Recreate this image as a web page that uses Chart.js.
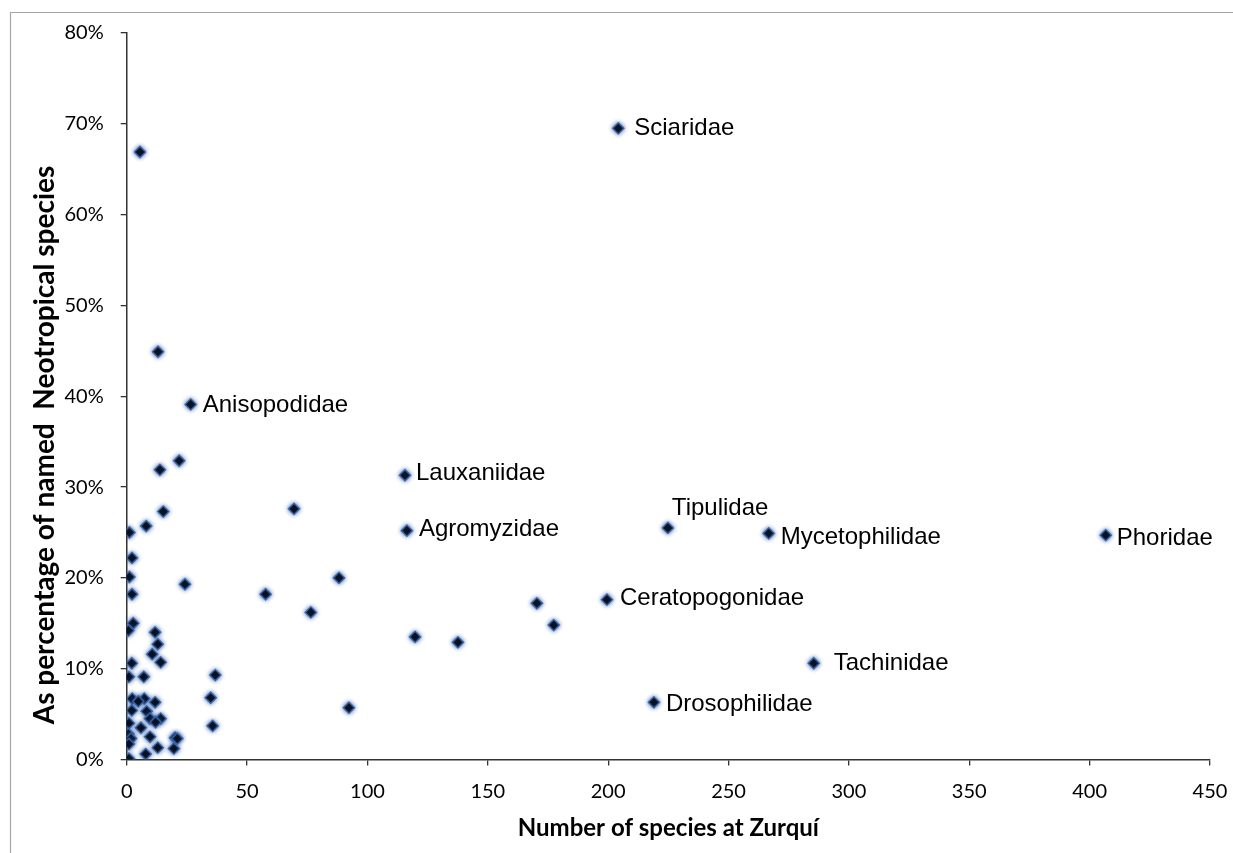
<!DOCTYPE html>
<html><head><meta charset="utf-8">
<script src="https://cdn.jsdelivr.net/npm/chart.js@4"></script>
<style>html,body{margin:0;padding:0;background:#fff}canvas{display:block}</style>
</head><body>
<canvas id="c" width="1233" height="853"></canvas>
<script>
// ---- data ----
const speciesAtZurqui = [
  204.2, 5.5, 13.0, 26.6, 21.8, 13.8, 115.6, 69.5, 15.2, 8.1,
  1.1, 116.4, 224.8, 266.7, 406.7, 2.2, 1.1, 88.2, 24.2, 2.2,
  57.7, 76.5, 170.4, 199.5, 177.4, 119.8, 137.6, 285.4, 219.0, 92.3,
  36.8, 34.9, 35.7, 2.7, 0.7, 11.8, 12.9, 10.6, 14.1, 2.1,
  0.9, 7.1, 2.3, 7.3, 11.8, 2.1, 8.3, 9.7, 14.1, 12.0,
  0.9, 5.9, 0.7, 9.7, 1.8, 20.1, 0.9, 12.9, 19.6, 7.9,
  0.9, 4.8, 21.0
];
const percentNamed = [
  69.5, 66.9, 44.9, 39.1, 32.9, 31.9, 31.3, 27.6, 27.3, 25.7,
  25.0, 25.2, 25.5, 24.9, 24.7, 22.2, 20.1, 20.0, 19.3, 18.2,
  18.2, 16.2, 17.2, 17.6, 14.8, 13.5, 12.9, 10.6, 6.3, 5.7,
  9.3, 6.8, 3.7, 15.0, 14.2, 14.0, 12.7, 11.6, 10.7, 10.6,
  9.1, 9.1, 6.7, 6.7, 6.3, 5.4, 5.3, 4.5, 4.5, 4.1,
  4.0, 3.5, 2.8, 2.5, 2.3, 2.4, 1.7, 1.3, 1.2, 0.6,
  0.1, 6.4, 2.3
];
const familyLabels = [
  'Sciaridae', '', '', 'Anisopodidae', '', '', 'Lauxaniidae', '', '', '',
  '', 'Agromyzidae', 'Tipulidae', 'Mycetophilidae', 'Phoridae', '', '', '', '', '',
  '', '', '', 'Ceratopogonidae', '', '', '', 'Tachinidae', 'Drosophilidae', ''
];
const xTickValues = [0, 50, 100, 150, 200, 250, 300, 350, 400, 450];
const yTickValues = [0, 10, 20, 30, 40, 50, 60, 70, 80];
const xAxisTitle = 'Number of species at Zurquí';
const yAxisTitle = 'As percentage of named  Neotropical species';

// ---- label placement (pixel offsets from the marker) ----
const labelOffsets = {
  'Sciaridae': [16, 0], 'Anisopodidae': [12, 1], 'Lauxaniidae': [11, -2],
  'Agromyzidae': [12, -1], 'Tipulidae': [4, -20], 'Mycetophilidae': [12, 4],
  'Phoridae': [11, 3], 'Ceratopogonidae': [13, -1], 'Tachinidae': [20, 0],
  'Drosophilidae': [12, 2]
};

const points = speciesAtZurqui.map((x, i) => ({ x: x, y: percentNamed[i] }));

const tickFont = { family: 'Lato', size: 20 };

const decorPlugin = {
  id: 'decor',
  beforeDraw(chart) {
    const ctx = chart.ctx;
    ctx.save();
    ctx.fillStyle = '#fff';
    ctx.fillRect(0, 0, chart.width, chart.height);
    ctx.strokeStyle = '#a6a6a6';
    ctx.lineWidth = 1.2;
    ctx.beginPath();
    ctx.moveTo(10.5, chart.height);
    ctx.lineTo(10.5, 12.5);
    ctx.lineTo(chart.width, 12.5);
    ctx.stroke();
    ctx.restore();
  },
  beforeDatasetsDraw(chart) {
    const ctx = chart.ctx;
    ctx.save();
    ctx.shadowColor = 'rgba(40,90,170,0.85)';
    ctx.shadowBlur = 4;
  },
  afterDatasetsDraw(chart) {
    chart.ctx.restore();
  },
  afterDraw(chart) {
    const ctx = chart.ctx;
    const xs = chart.scales.x, ys = chart.scales.y;
    ctx.save();
    ctx.fillStyle = '#000';
    ctx.font = '24px "Liberation Sans", Arial, sans-serif';
    ctx.textAlign = 'left';
    ctx.textBaseline = 'middle';
    familyLabels.forEach((name, i) => {
      if (!name) return;
      const off = labelOffsets[name] || [12, 0];
      const px = xs.getPixelForValue(speciesAtZurqui[i]);
      const py = ys.getPixelForValue(percentNamed[i]);
      ctx.fillText(name, px + off[0], py + off[1]);
    });
    // axis titles
    ctx.textAlign = 'center';
    ctx.font = 'bold 24px Lato, sans-serif';
    ctx.fillText(xAxisTitle, (chart.chartArea.left + chart.chartArea.right) / 2, 828);
    ctx.font = 'bold 28px Lato, sans-serif';
    ctx.translate(45, 445);
    ctx.rotate(-Math.PI / 2);
    ctx.fillText(yAxisTitle, 0, 0);
    ctx.restore();
  }
};

new Chart(document.getElementById('c'), {
  type: 'scatter',
  data: {
    datasets: [{
      data: points,
      pointStyle: 'rectRot',
      pointRadius: 5.6,
      pointHoverRadius: 5.6,
      backgroundColor: '#000',
      borderColor: 'rgba(60,100,165,0.9)',
      borderWidth: 1.5
    }]
  },
  options: {
    responsive: false,
    animation: false,
    devicePixelRatio: 1,
    layout: { padding: { left: 0, top: 33, right: 23, bottom: 0 } },
    plugins: { legend: { display: false }, tooltip: { enabled: false } },
    scales: {
      x: {
        type: 'linear', min: 0, max: 450,
        afterBuildTicks(scale) { scale.ticks = xTickValues.map(v => ({ value: v })); },
        afterFit(scale) { scale.height = 93.5; scale.paddingLeft = 0; scale.paddingRight = 0; },
        grid: { drawOnChartArea: false, drawTicks: true, tickLength: 6, tickColor: '#333', lineWidth: 1.3 },
        border: { display: true, color: '#333', width: 1.5 },
        ticks: { color: '#000', font: tickFont, padding: 14, maxRotation: 0 }
      },
      y: {
        type: 'linear', min: 0, max: 80,
        afterBuildTicks(scale) { scale.ticks = yTickValues.map(v => ({ value: v })); },
        afterFit(scale) { scale.width = 126.7; scale.paddingTop = 0; scale.paddingBottom = 0; },
        grid: { drawOnChartArea: false, drawTicks: true, tickLength: 6, tickColor: '#333', lineWidth: 1.3 },
        border: { display: true, color: '#333', width: 1.5 },
        ticks: { color: '#000', font: tickFont, padding: 17, callback: v => v + '%' }
      }
    }
  },
  plugins: [decorPlugin]
});
</script>
</body></html>
